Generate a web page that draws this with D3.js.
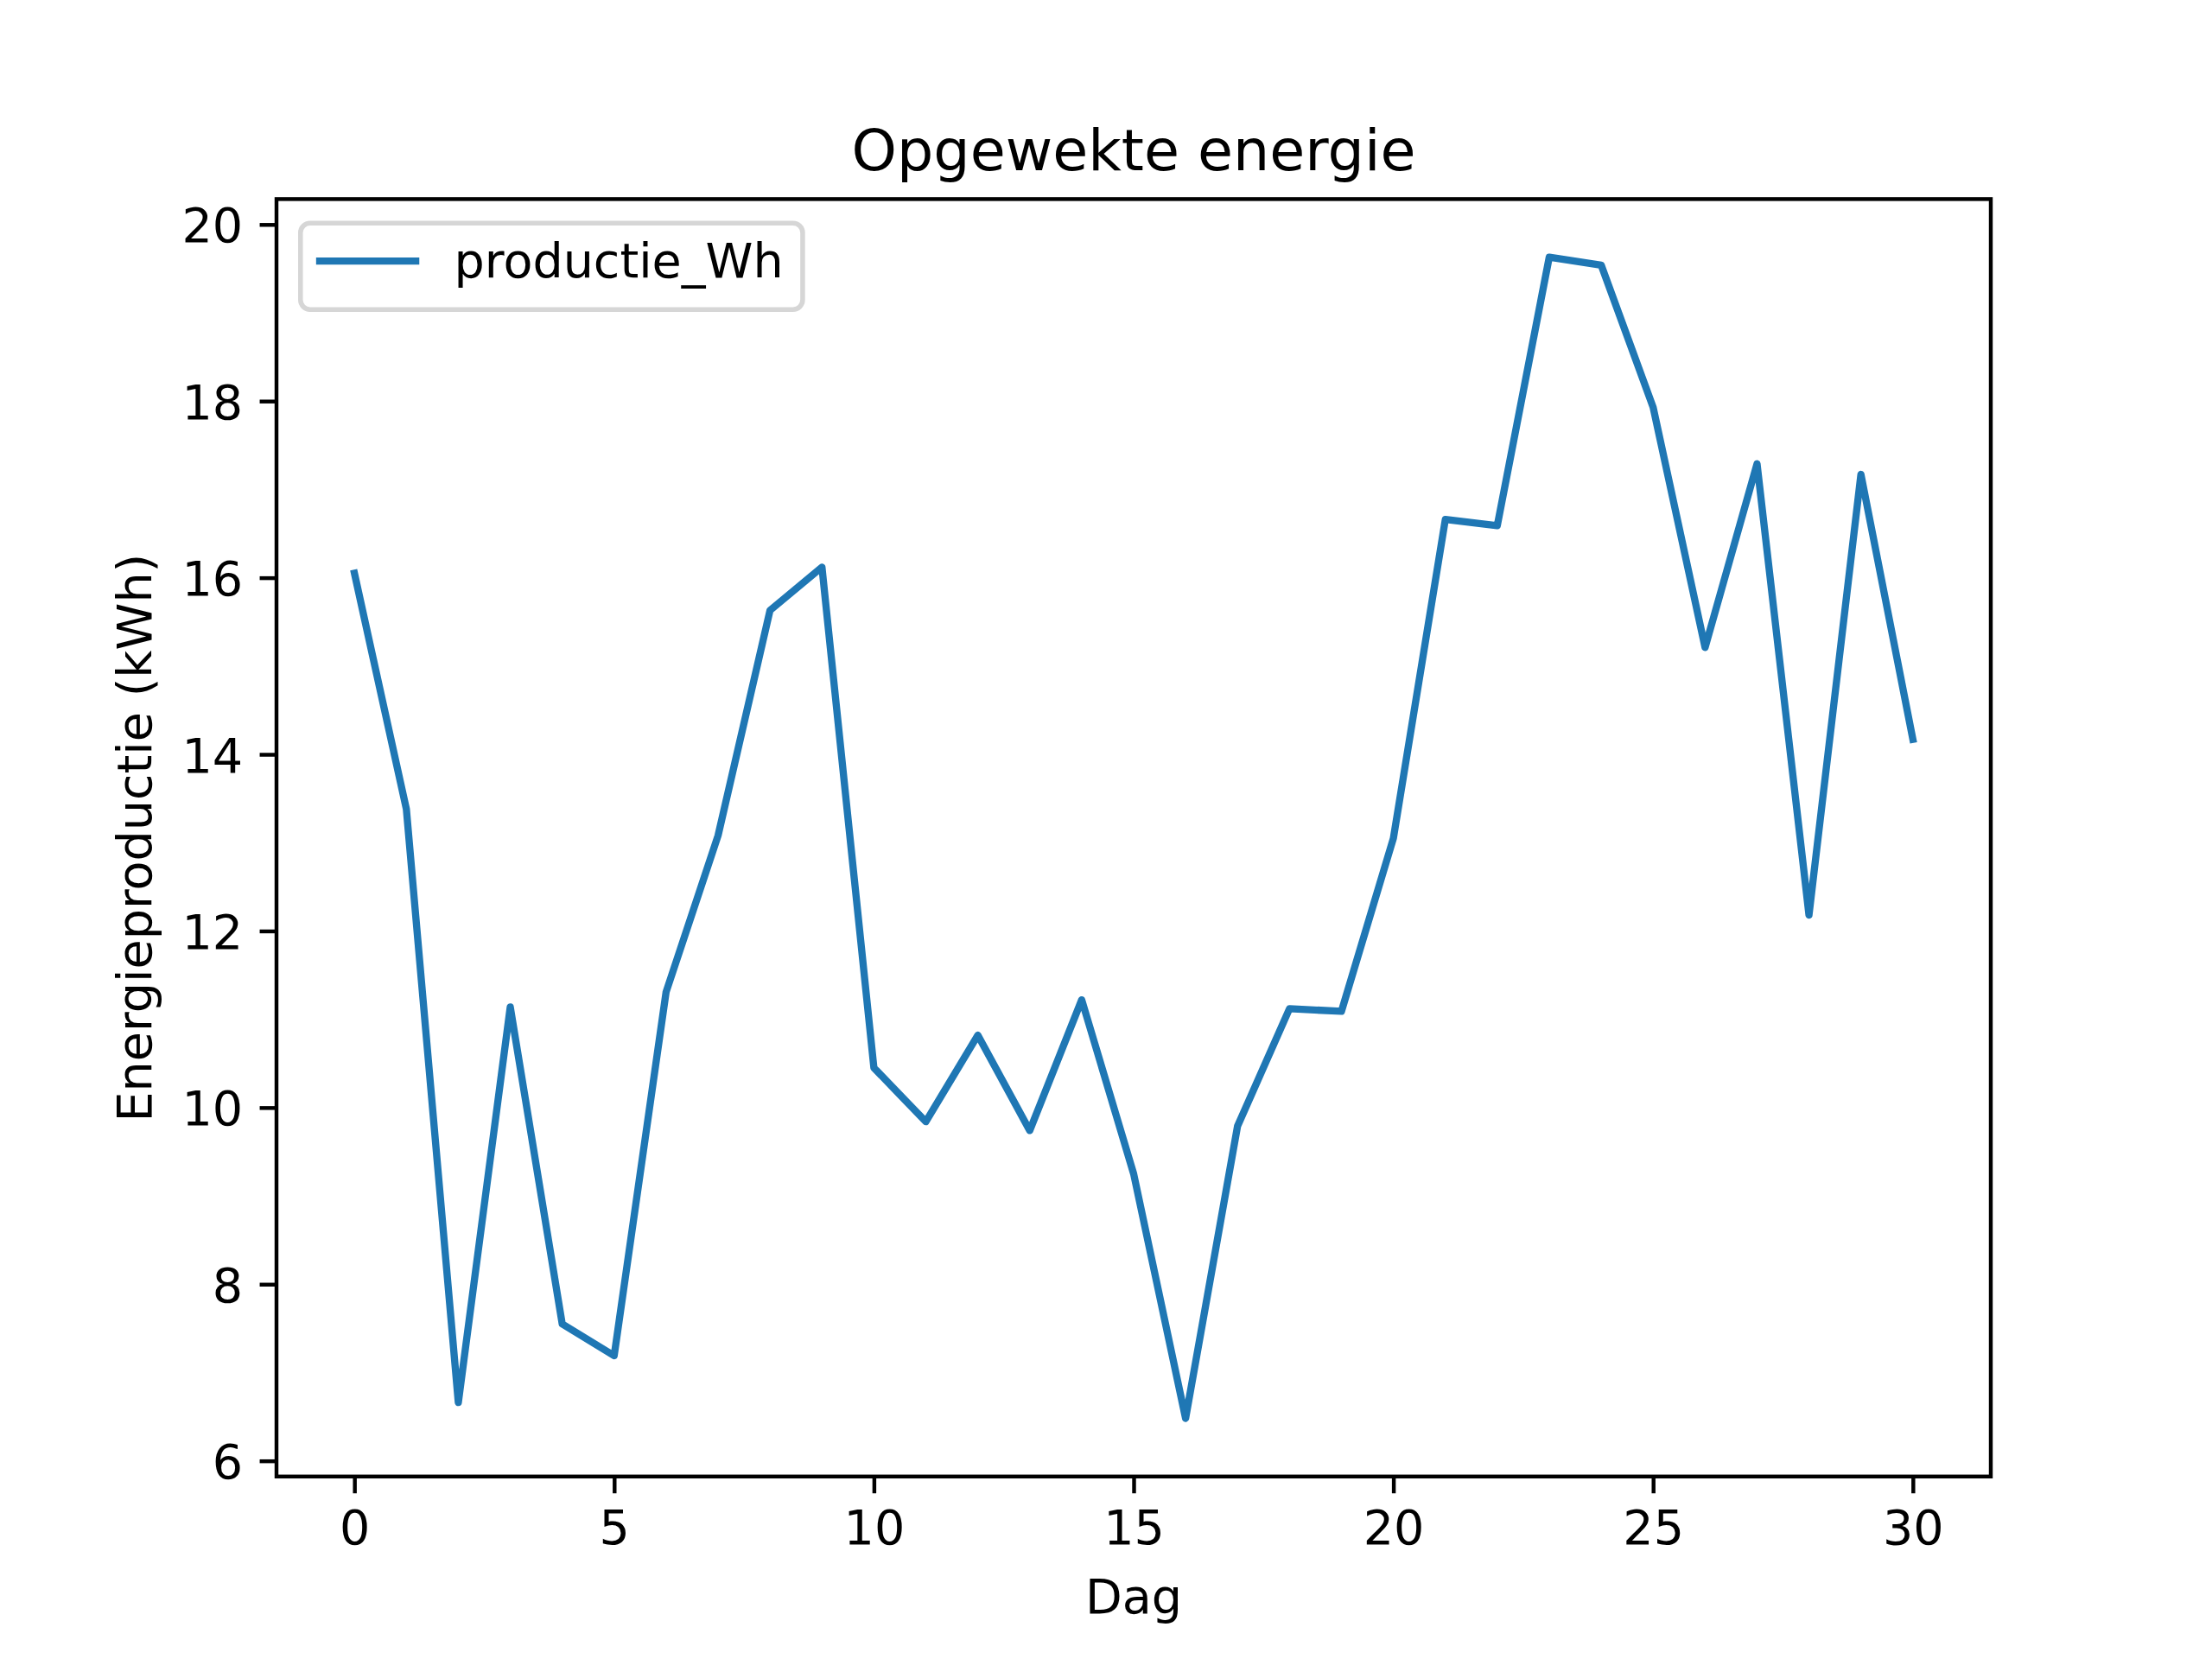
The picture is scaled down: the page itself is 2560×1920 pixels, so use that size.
<!DOCTYPE html>
<html>
<head>
<meta charset="utf-8">
<script src="https://cdn.jsdelivr.net/npm/d3@7"></script>
<style>
  body { margin: 0; background: #fff; }
  svg text { font-family: "DejaVu Sans", sans-serif; fill: #000; }
</style>
</head>
<body>
<div id="chart"></div>
<script>
// Days and the daily production values (kWh)
var days = d3.range(0, 31);
var production = [16.05, 13.38, 6.66, 11.14, 7.55, 7.19, 11.31, 13.08, 15.63, 16.12,
                  10.45, 9.84, 10.82, 9.74, 11.22, 9.25, 6.48, 9.79, 11.12, 11.09,
                  13.05, 16.66, 16.59, 19.63, 19.54, 17.93, 15.21, 17.29, 12.18, 17.17, 14.17];
var xTicks = [0, 5, 10, 15, 20, 25, 30];
var yTicks = [6, 8, 10, 12, 14, 16, 18, 20];
var seriesName = "productie_Wh";

//Figure size (matplotlib 6.4x4.8 inch at 400 dpi)
var width = 2560, height = 1920;
var pt = 400 / 72;
var fontSize = 10 * pt;
var plotLeft = 0.125 * width, plotRight = 0.9 * width, plotTop = 0.12 * height, plotBottom = 0.89 * height;

var svg = d3.select("#chart").append("svg").attr("width", width).attr("height", height);

//Scales with the 5% margin matplotlib adds
var xExt = d3.extent(days), yExt = d3.extent(production);
var xPad = (xExt[1] - xExt[0]) * 0.05, yPad = (yExt[1] - yExt[0]) * 0.05;
var x = d3.scaleLinear().domain([xExt[0] - xPad, xExt[1] + xPad]).range([plotLeft, plotRight]);
var y = d3.scaleLinear().domain([yExt[0] - yPad, yExt[1] + yPad]).range([plotBottom, plotTop]);

//The line itself
var line = d3.line()
  .x(function(d, i) { return x(days[i]); })
  .y(function(d) { return y(d); });

svg.append("path")
  .datum(production)
  .attr("d", line)
  .attr("fill", "none")
  .attr("stroke", "#1f77b4")
  .attr("stroke-width", 1.5 * pt)
  .attr("stroke-linejoin", "round")
  .attr("stroke-linecap", "square");

//Axes
var tickLen = 3.5 * pt;
var xAxis = svg.append("g")
  .attr("transform", "translate(0," + plotBottom + ")")
  .call(d3.axisBottom(x).tickValues(xTicks).tickFormat(d3.format("d"))
    .tickSize(tickLen).tickPadding(3.5 * pt).tickSizeOuter(0));
var yAxis = svg.append("g")
  .attr("transform", "translate(" + plotLeft + ",0)")
  .call(d3.axisLeft(y).tickValues(yTicks).tickFormat(d3.format("d"))
    .tickSize(tickLen).tickPadding(3.5 * pt).tickSizeOuter(0));

[xAxis, yAxis].forEach(function(a) {
  a.select(".domain").remove();
  a.selectAll(".tick line").attr("stroke", "#000").attr("stroke-width", 0.8 * pt);
  a.selectAll(".tick text")
    .attr("font-size", fontSize)
    .attr("font-family", "DejaVu Sans");
});
yAxis.selectAll(".tick text").attr("dy", "0.36em");

//Frame around the plot
svg.append("rect")
  .attr("x", plotLeft).attr("y", plotTop)
  .attr("width", plotRight - plotLeft).attr("height", plotBottom - plotTop)
  .attr("fill", "none")
  .attr("stroke", "#000")
  .attr("stroke-width", 0.8 * pt);

//Title and labels
svg.append("text")
  .attr("x", (plotLeft + plotRight) / 2)
  .attr("y", plotTop - 6 * pt)
  .attr("text-anchor", "middle")
  .attr("font-size", 12 * pt)
  .text("Opgewekte energie");

svg.append("text")
  .attr("x", (plotLeft + plotRight) / 2)
  .attr("y", 1867)
  .attr("text-anchor", "middle")
  .attr("font-size", fontSize)
  .text("Dag");

svg.append("text")
  .attr("transform", "translate(175," + (plotTop + plotBottom) / 2 + ") rotate(-90)")
  .attr("text-anchor", "middle")
  .attr("font-size", fontSize)
  .text("Energieproductie (kWh)");

//Legend in the upper left corner
var lgX = plotLeft + 0.5 * fontSize, lgY = plotTop + 0.5 * fontSize;
var legend = svg.append("g").attr("transform", "translate(" + lgX + "," + lgY + ")");
var legendText = legend.append("text")
  .attr("x", 0.4 * fontSize + 2 * fontSize + 0.8 * fontSize)
  .attr("y", 63)
  .attr("font-size", fontSize)
  .text(seriesName);
var tw = legendText.node().getComputedTextLength();
legend.insert("rect", "text")
  .attr("width", 0.4 * fontSize + 2 * fontSize + 0.8 * fontSize + tw + 0.4 * fontSize)
  .attr("height", 100)
  .attr("rx", 0.2 * fontSize)
  .attr("fill", "#fff")
  .attr("fill-opacity", 0.8)
  .attr("stroke", "#cccccc")
  .attr("stroke-opacity", 0.8)
  .attr("stroke-width", 1.0 * pt);
legend.insert("line", "text")
  .attr("x1", 0.4 * fontSize).attr("x2", 0.4 * fontSize + 2 * fontSize)
  .attr("y1", 44).attr("y2", 44)
  .attr("stroke", "#1f77b4")
  .attr("stroke-width", 1.5 * pt)
  .attr("stroke-linecap", "square");
</script>
</body>
</html>
